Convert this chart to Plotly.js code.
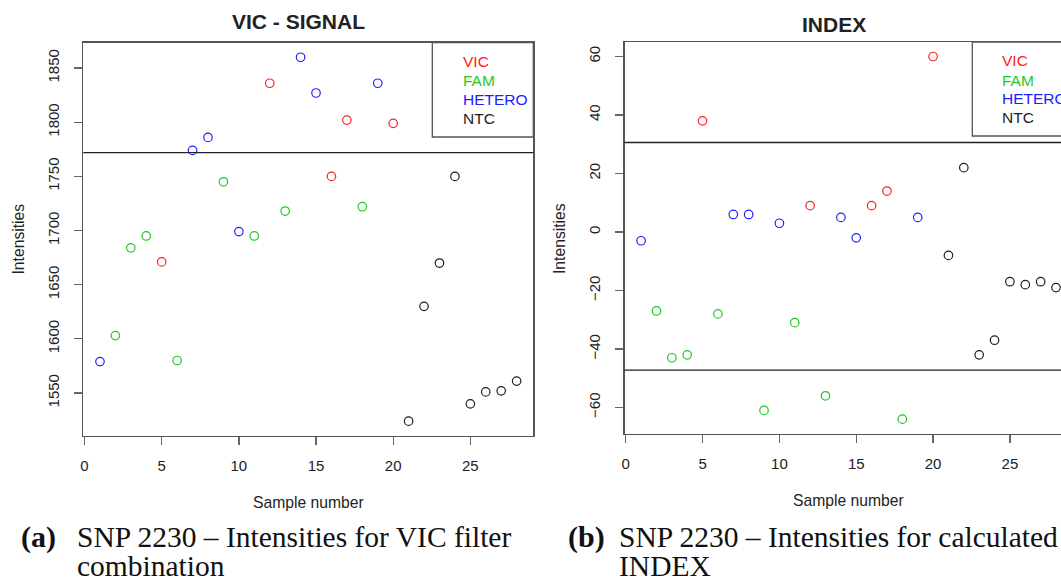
<!DOCTYPE html>
<html><head><meta charset="utf-8">
<script src="https://cdn.plot.ly/plotly-3.0.1.min.js"></script>
<style>html,body{margin:0;padding:0;overflow:hidden;background:#fff;width:1061px;height:578px}#chart{width:1090px;height:578px}</style>
</head><body><div id="chart"></div>
<script>
// ---- data ----
const samples = [1,2,3,4,5,6,7,8,9,10,11,12,13,14,15,16,17,18,19,20,21,22,23,24,25,26,27,28];
const groups = ["HETERO","FAM","FAM","FAM","VIC","FAM","HETERO","HETERO","FAM","HETERO","FAM","VIC","FAM","HETERO","HETERO","VIC","VIC","FAM","HETERO","VIC","NTC","NTC","NTC","NTC","NTC","NTC","NTC","NTC"];
const vicSignal = [1579,1603,1684,1695,1671,1580,1774,1786,1745,1699,1695,1836,1718,1860,1827,1750,1802,1722,1836,1799,1524,1630,1670,1750,1540,1551,1552,1561];
const indexValues = [-3,-27,-43,-42,38,-28,6,6,-61,3,-31,9,-56,5,-2,9,14,-64,5,60,-8,22,-42,-37,-17,-18,-17,-19];
const categories = ["VIC","FAM","HETERO","NTC"];
const categoryColors = ["#ff2020","#1fc81f","#2020ff","#1e1e1e"];
const vicThresholds = [1772];
const indexThresholds = [30.6, -47.2];
const xTicks = [0,5,10,15,20,25];
const vicTicks = [1550,1600,1650,1700,1750,1800,1850];
const indexTicks = [-60,-40,-20,0,20,40,60];
const titles = ["VIC - SIGNAL","INDEX"];
const xTitle = "Sample number";
const yTitle = "Intensities";
const captionLabels = ["(a)","(b)"];
const captionLine1 = ["SNP 2230 – Intensities for VIC filter","SNP 2230 – Intensities for calculated"];
const captionLine2 = ["combination","INDEX"];

// ---- layout helpers ----
const W = 1090, H = 578;
const px = v => v / W, py = v => 1 - v / H;
function rRange(arr){ const mn=Math.min(...arr), mx=Math.max(...arr), d=(mx-mn)*0.04; return [mn-d, mx+d]; }

const traces = [];
function addPanel(values, xa, ya){
  categories.forEach((c,i)=>{
    const xs=[], ys=[];
    samples.forEach((s,k)=>{ if(groups[k]===c){ xs.push(s); ys.push(values[k]); } });
    traces.push({type:'scatter', mode:'markers', x:xs, y:ys, xaxis:xa, yaxis:ya, name:c, showlegend:false,
      marker:{symbol:'circle-open', size:8.5, color:categoryColors[i], line:{width:1.2, color:categoryColors[i]}}, cliponaxis:false});
  });
}
addPanel(vicSignal,'x','y');
addPanel(indexValues,'x2','y2');

const boxes = [
  {l:83.3, r:533.3, t:42.7, b:435.7},
  {l:624.5, r:1072.6, t:42.0, b:433.7}
];
const sans = 'Liberation Sans';
const serif = 'Liberation Serif';
function xAxis(b, anchor){
  return {domain:[px(b.l), px(b.r)], range:rRange(samples), anchor:anchor, tickvals:xTicks,
    ticks:'outside', ticklen:8, tickwidth:1.3, tickcolor:'#666', showline:true, mirror:true,
    linecolor:'#555', linewidth:1.3, showgrid:false, zeroline:false, ticklabelstandoff:8,
    tickfont:{family:sans, size:15, color:'#222'}};
}
function yAxis(b, anchor, vals, ticks){
  return {domain:[py(b.b), py(b.t)], range:rRange(vals), anchor:anchor, tickvals:ticks, tickangle:-90,
    ticks:'outside', ticklen:8, tickwidth:1.3, tickcolor:'#666', showline:true, mirror:true,
    linecolor:'#555', linewidth:1.3, showgrid:false, zeroline:false, ticklabelstandoff:9,
    tickfont:{family:sans, size:15, color:'#222'}};
}

const shapes = [];
vicThresholds.forEach(v=>shapes.push({type:'line', xref:'x domain', yref:'y', x0:0, x1:1, y0:v, y1:v, line:{color:'#222', width:1.3}}));
indexThresholds.forEach(v=>shapes.push({type:'line', xref:'x2 domain', yref:'y2', x0:0, x1:1, y0:v, y1:v, line:{color:'#222', width:1.3}}));
// legend boxes
const legBoxes = [{l:432.3, b:137, box:boxes[0], tx:461, ty:[61.7,80.3,99.3,118.3]},{l:972.3, b:136, box:boxes[1], tx:1000.3, ty:[60.7,80,99,117.3]}];
legBoxes.forEach(L=>shapes.push({type:'rect', xref:'paper', yref:'paper', x0:px(L.l), x1:px(L.box.r), y0:py(L.b), y1:py(L.box.t), line:{color:'#555', width:1.3}, fillcolor:'rgba(0,0,0,0)'}));

const ann = [];
legBoxes.forEach(L=>categories.forEach((c,i)=>ann.push({xref:'paper', yref:'paper', x:px(L.tx), y:py(L.ty[i]), xanchor:'left', yanchor:'middle', showarrow:false, text:c, font:{family:sans, size:15.5, color:categoryColors[i]}})));
const titlePos = [[298,21.5],[833.7,24.8]];
titles.forEach((t,i)=>ann.push({xref:'paper', yref:'paper', x:px(titlePos[i][0]), y:py(titlePos[i][1]), xanchor:'center', yanchor:'middle', showarrow:false, text:'<b>'+t+'</b>', font:{family:sans, size:21, color:'#222'}}));
const xtPos = [[308.3,502],[848.5,500]];
xtPos.forEach(p=>ann.push({xref:'paper', yref:'paper', x:px(p[0]), y:py(p[1]), xanchor:'center', yanchor:'middle', showarrow:false, text:xTitle, font:{family:sans, size:15.7, color:'#222'}}));
const ytPos = [[17.5,239],[559,238]];
ytPos.forEach(p=>ann.push({xref:'paper', yref:'paper', x:px(p[0]), y:py(p[1]), xanchor:'center', yanchor:'middle', textangle:-90, showarrow:false, text:yTitle, font:{family:sans, size:15.7, color:'#222'}}));
const capX = [[19,75],[566,617]];
captionLabels.forEach((c,i)=>{
  ann.push({xref:'paper', yref:'paper', x:px(capX[i][0]), y:py(537), xanchor:'left', yanchor:'middle', showarrow:false, text:'<b>'+c+'</b>', font:{family:serif, size:30, color:'#111'}});
  ann.push({xref:'paper', yref:'paper', x:px(capX[i][1]), y:py(537), xanchor:'left', yanchor:'middle', showarrow:false, text:captionLine1[i], font:{family:serif, size:29.5, color:'#111'}});
  ann.push({xref:'paper', yref:'paper', x:px(capX[i][1]), y:py(566), xanchor:'left', yanchor:'middle', showarrow:false, text:captionLine2[i], font:{family:serif, size:29.5, color:'#111'}});
});

const layout = {width:W, height:H, margin:{l:0,r:0,t:0,b:0}, paper_bgcolor:'#fff', plot_bgcolor:'#fff', showlegend:false,
  xaxis:xAxis(boxes[0],'y'), yaxis:yAxis(boxes[0],'x',vicSignal,vicTicks),
  xaxis2:xAxis(boxes[1],'y2'), yaxis2:yAxis(boxes[1],'x2',indexValues,indexTicks),
  shapes:shapes, annotations:ann};
Plotly.newPlot('chart', traces, layout, {staticPlot:true, displayModeBar:false});
</script></body></html>
